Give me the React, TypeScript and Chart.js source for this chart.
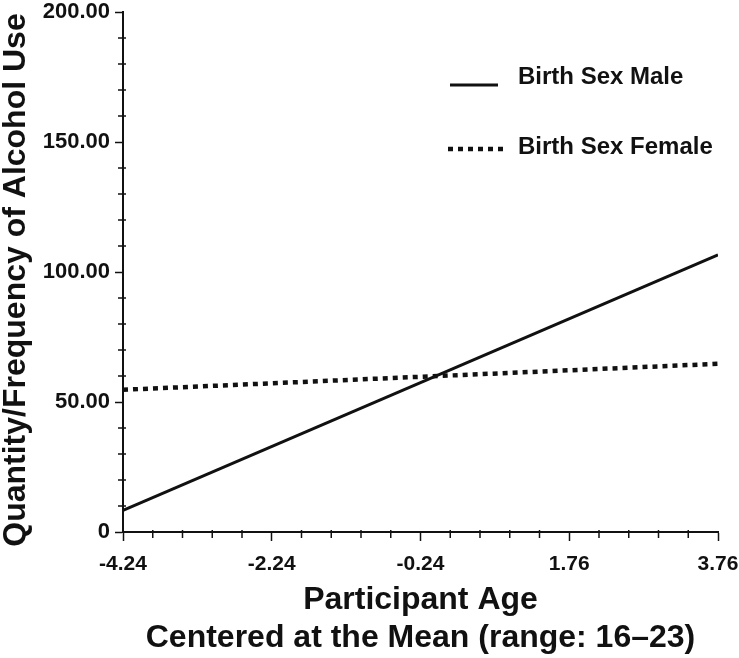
import React, { useEffect, useRef } from 'react';
import { Chart, registerables } from 'chart.js';

Chart.register(...registerables);

// ---- data ----
const ageValues = [-4.24, 3.76];
const maleValues = [8.3, 106.6];
const femaleValues = [54.7, 64.7];
const xTickValues = [-4.24, -2.24, -0.24, 1.76, 3.76];
const yMin = 0;
const yMax = 200;
const yMajorStep = 50;
const yMinorStep = 10;
const xMinorStep = 0.4;
const seriesLabels = ['Birth Sex Male', 'Birth Sex Female'];
const yTitle = 'Quantity/Frequency of Alcohol Use';
const xTitle = ['Participant Age', 'Centered at the Mean (range: 16–23)'];

const FONT = "'Liberation Sans', Arial, Helvetica, sans-serif";

const minorTicksAndLegend = {
  id: 'minorTicksAndLegend',
  afterDraw(chart: any) {
    const { ctx, scales } = chart;
    const x = scales.x;
    const y = scales.y;
    ctx.save();
    ctx.strokeStyle = '#111';
    ctx.lineWidth = 1.5;
    ctx.setLineDash([]);
    // y minor ticks
    for (let v = yMin; v <= yMax + 1e-9; v += yMinorStep) {
      if (Math.abs(v % yMajorStep) < 1e-6) continue;
      const py = y.getPixelForValue(v);
      ctx.beginPath();
      ctx.moveTo(x.left - 5, py);
      ctx.lineTo(x.left + 3, py);
      ctx.stroke();
    }
    // x minor ticks
    for (let i = 0; ; i++) {
      const v = xTickValues[0] + i * xMinorStep;
      if (v > x.max + 1e-6) break;
      if (xTickValues.some((t) => Math.abs(t - v) < 1e-6)) continue;
      const px = x.getPixelForValue(v);
      ctx.beginPath();
      ctx.moveTo(px, y.bottom - 2);
      ctx.lineTo(px, y.bottom + 6);
      ctx.stroke();
    }

    // y axis title
    ctx.save();
    ctx.translate(16, 280);
    ctx.rotate(-Math.PI / 2);
    ctx.fillStyle = '#111';
    ctx.font = `bold 32px ${FONT}`;
    ctx.textAlign = 'center';
    ctx.textBaseline = 'middle';
    ctx.fillText(yTitle, 0, 0);
    ctx.restore();

    // legend
    const area = chart.chartArea;
    const lx0 = area.left + 327;
    const lx1 = area.left + 375;
    const tx = area.left + 395;
    ctx.strokeStyle = '#111';
    ctx.lineWidth = 3;
    ctx.lineCap = 'butt';
    ctx.beginPath();
    ctx.moveTo(lx0, area.top + 73);
    ctx.lineTo(lx1, area.top + 73);
    ctx.stroke();

    ctx.lineWidth = 4.5;
    ctx.setLineDash([5, 5]);
    ctx.beginPath();
    ctx.moveTo(lx0 - 2, area.top + 137);
    ctx.lineTo(lx1 + 5, area.top + 137);
    ctx.stroke();
    ctx.setLineDash([]);

    ctx.fillStyle = '#111';
    ctx.font = `bold 24px ${FONT}`;
    ctx.textAlign = 'left';
    ctx.textBaseline = 'middle';
    ctx.fillText(seriesLabels[0], tx, area.top + 65);
    ctx.fillText(seriesLabels[1], tx, area.top + 135);
    ctx.restore();
  },
};

export default function App() {
  const canvasRef = useRef<HTMLCanvasElement | null>(null);

  useEffect(() => {
    if (!canvasRef.current) return;
    const chart = new Chart(canvasRef.current, {
      type: 'line',
      data: {
        datasets: [
          {
            label: seriesLabels[0],
            data: ageValues.map((a, i) => ({ x: a, y: maleValues[i] })),
            borderColor: '#111',
            borderWidth: 3,
            pointRadius: 0,
            fill: false,
          },
          {
            label: seriesLabels[1],
            data: ageValues.map((a, i) => ({ x: a, y: femaleValues[i] })),
            borderColor: '#111',
            borderWidth: 4.5,
            borderDash: [5, 5],
            borderCapStyle: 'butt',
            pointRadius: 0,
            fill: false,
          },
        ],
      },
      options: {
        animation: false,
        responsive: true,
        maintainAspectRatio: false,
        layout: { padding: { top: 12, right: 21, left: 0, bottom: 0 } },
        plugins: {
          legend: { display: false },
          tooltip: { enabled: false },
        },
        scales: {
          x: {
            type: 'linear',
            min: xTickValues[0],
            max: xTickValues[xTickValues.length - 1],
            afterBuildTicks: (scale: any) => {
              scale.ticks = xTickValues.map((v) => ({ value: v }));
            },
            afterFit: (scale: any) => {
              scale.height = 126;
              scale.paddingLeft = 0;
              scale.paddingRight = 0;
            },
            border: { display: true, color: '#111', width: 2 },
            grid: {
              display: true,
              drawOnChartArea: false,
              drawTicks: true,
              tickLength: 9,
              tickWidth: 1.5,
              tickColor: '#111',
            },
            ticks: {
              autoSkip: false,
              maxRotation: 0,
              padding: 11,
              color: '#111',
              font: { family: FONT, size: 21, weight: 'bold' },
              callback: (v: any) => Number(v).toFixed(2),
            },
            title: {
              display: true,
              text: xTitle,
              color: '#111',
              font: { family: FONT, size: 32, weight: 'bold', lineHeight: 1.19 },
              padding: { top: 0, bottom: 1 },
            },
          },
          y: {
            type: 'linear',
            min: yMin,
            max: yMax,
            afterFit: (scale: any) => {
              scale.width = 123;
              scale.paddingTop = 0;
              scale.paddingBottom = 0;
            },
            border: { display: true, color: '#111', width: 2 },
            grid: {
              display: true,
              drawOnChartArea: false,
              drawTicks: true,
              tickLength: 8,
              tickWidth: 1.5,
              tickColor: '#111',
            },
            ticks: {
              stepSize: yMajorStep,
              padding: 5,
              color: '#111',
              font: { family: FONT, size: 22, weight: 'bold' },
              callback: (v: any) => (Number(v) === 0 ? '0' : Number(v).toFixed(2)),
            },
            title: { display: false },
          },
        },
      },
      plugins: [minorTicksAndLegend],
    } as any);
    return () => chart.destroy();
  }, []);

  return (
    <div style={{ position: 'absolute', left: 0, top: 0, width: 739, height: 658, background: '#fff' }}>
      <canvas ref={canvasRef} />
    </div>
  );
}
